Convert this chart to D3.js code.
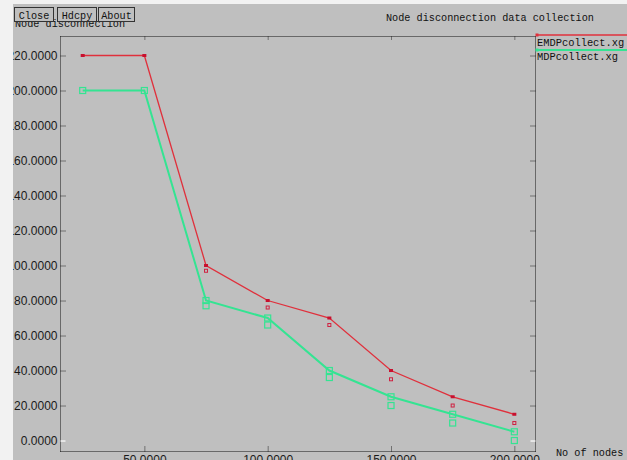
<!DOCTYPE html>
<html>
<head>
<meta charset="utf-8">
<script src="https://cdn.jsdelivr.net/npm/d3@7"></script>
<style>
  html, body { margin: 0; padding: 0; background: #bfbfbf; overflow: hidden; }
  svg { display: block; }
</style>
</head>
<body>
<script>
// ---- data ----
const xValues = [25, 50, 75, 100, 125, 150, 175, 200];
const emdpValues = [220, 220, 100, 80, 70, 40, 25, 15];
const mdpValues = [200, 200, 80, 70, 40, 25, 15, 5];
const markXValues = [75, 100, 125, 150, 175, 200];
const emdpMarkValues = [97, 76, 66, 35, 20, 10];
const mdpMarkValues = [77, 66, 36, 20, 10, 0];
const xTicks = [50, 100, 150, 200];
const yTicks = [0, 20, 40, 60, 80, 100, 120, 140, 160, 180, 200, 220];
const seriesNames = ["EMDPcollect.xg", "MDPcollect.xg"];
const buttons = ["Close", "Hdcpy", "About"];
const titleText = "Node disconnection data collection";
const yLabelText = "Node disconnection";
const xLabelText = "No of nodes";

const W = 627, H = 460;
const RED = "#e0303c", GREEN = "#34e492";
const mono = "'Liberation Mono', 'DejaVu Sans Mono', monospace";
const sans = "'Liberation Sans', Arial, sans-serif";

const svg = d3.select("body").append("svg").attr("width", W).attr("height", H);
svg.append("rect").attr("width", W).attr("height", H).attr("fill", "#bfbfbf");

const x = d3.scaleLinear().domain([16, 208.5]).range([60.5, 535.3]);
const y = d3.scaleLinear().domain([-6.5, 231]).range([451.9, 36.25]);

const L = 60.5, R = 535.5, T = 36.5, B = 451.5;

// y label (drawn before buttons, buttons overlap it)
svg.append("text").attr("x", 15).attr("y", 27).attr("font-family", mono)
  .attr("font-size", "10.2px").attr("fill", "#111").text(yLabelText);

// buttons
const bx = [14, 57, 98], bw = [39, 39, 36];
buttons.forEach((b, i) => {
  svg.append("rect").attr("x", bx[i] + 0.5).attr("y", 7.5).attr("width", bw[i]).attr("height", 14)
    .attr("fill", "#bfbfbf").attr("stroke", "#333").attr("stroke-width", 1);
  svg.append("text").attr("x", bx[i] + bw[i] / 2 + 0.5).attr("y", 18.5).attr("text-anchor", "middle")
    .attr("font-family", mono).attr("font-size", "10.2px").attr("fill", "#111").text(b);
});

// title
svg.append("text").attr("x", 386).attr("y", 20.5).attr("font-family", mono)
  .attr("font-size", "10.2px").attr("fill", "#111").text(titleText);

// x label
svg.append("text").attr("x", 556).attr("y", 456).attr("font-family", mono)
  .attr("font-size", "10.2px").attr("fill", "#111").text(xLabelText);

// frame (dotted)
const frame = svg.append("g").attr("stroke", "#111").attr("stroke-width", 1)
  .attr("stroke-dasharray", "1,1").attr("fill", "none");
frame.append("line").attr("x1", L).attr("x2", L).attr("y1", T).attr("y2", B);
frame.append("line").attr("x1", R).attr("x2", R).attr("y1", T).attr("y2", B);
frame.append("line").attr("x1", L).attr("x2", R).attr("y1", T).attr("y2", T);
frame.append("line").attr("x1", L).attr("x2", R).attr("y1", B).attr("y2", B);

function styleAxis(g, showLabels) {
  g.select(".domain").remove();
  g.selectAll(".tick line").attr("stroke", d => d === 0 ? "#ffffff" : "#222")
    .attr("stroke-dasharray", d => d === 0 ? null : "1,1")
    .attr("stroke-width", d => d === 0 ? 1.2 : 1);
  g.selectAll(".tick text").attr("font-family", sans).attr("font-size", "12px").attr("fill", "#1a1a1a");
  if (!showLabels) g.selectAll(".tick text").remove();
}

// left axis
svg.append("g").attr("transform", `translate(${L},0)`)
  .call(d3.axisLeft(y).tickValues(yTicks).tickFormat(d3.format(".4f")).tickSize(-5).tickSizeOuter(0).tickPadding(3))
  .call(g => styleAxis(g, true));
// right axis ticks
svg.append("g").attr("transform", `translate(${R},0)`)
  .call(d3.axisRight(y).tickValues(yTicks).tickSize(-5).tickSizeOuter(0))
  .call(g => styleAxis(g, false));
// bottom axis
svg.append("g").attr("transform", `translate(0,${B})`)
  .call(d3.axisBottom(x).tickValues(xTicks).tickFormat(d3.format(".4f")).tickSize(-5).tickSizeOuter(0).tickPadding(4))
  .call(g => styleAxis(g, true));
// top axis ticks
svg.append("g").attr("transform", `translate(0,${T})`)
  .call(d3.axisTop(x).tickValues(xTicks).tickSize(-4).tickSizeOuter(0))
  .call(g => styleAxis(g, false));

// series
const line = d3.line().x(d => x(d[0])).y(d => y(d[1]));
const emdp = xValues.map((v, i) => [v, emdpValues[i]]);
const mdp = xValues.map((v, i) => [v, mdpValues[i]]);
const emdpM = markXValues.map((v, i) => [v, emdpMarkValues[i]]);
const mdpM = markXValues.map((v, i) => [v, mdpMarkValues[i]]);

svg.append("path").datum(mdp).attr("d", line).attr("fill", "none")
  .attr("stroke", GREEN).attr("stroke-width", 2);
svg.append("path").datum(emdp).attr("d", line).attr("fill", "none")
  .attr("stroke", RED).attr("stroke-width", 1.3);

// green markers (open squares)
svg.selectAll(".gm").data(mdp.concat(mdpM)).enter().append("rect")
  .attr("x", d => x(d[0]) - 3).attr("y", d => y(d[1]) - 3)
  .attr("width", 6).attr("height", 6).attr("fill", "none")
  .attr("stroke", GREEN).attr("stroke-width", 1.2);
// red markers
svg.selectAll(".rm").data(emdp).enter().append("rect")
  .attr("x", d => x(d[0]) - 2).attr("y", d => y(d[1]) - 1.5)
  .attr("width", 4).attr("height", 3).attr("fill", "#c8102e");
svg.selectAll(".rm2").data(emdpM).enter().append("rect")
  .attr("x", d => x(d[0]) - 1.5).attr("y", d => y(d[1]) - 1.5)
  .attr("width", 3).attr("height", 3).attr("fill", "none")
  .attr("stroke", "#d02040").attr("stroke-width", 1);

// legend
const legY = [35, 50], legTextY = [45.5, 60];
const legColors = [RED, GREEN];
seriesNames.forEach((n, i) => {
  svg.append("line").attr("x1", 537).attr("x2", W).attr("y1", legY[i]).attr("y2", legY[i])
    .attr("stroke", legColors[i]).attr("stroke-width", i === 0 ? 1.3 : 2);
  svg.append("rect").attr("x", 535.5).attr("y", legY[i] - 1.5).attr("width", 3).attr("height", 3)
    .attr("fill", legColors[i]);
  svg.append("text").attr("x", 537).attr("y", legTextY[i]).attr("font-family", mono)
    .attr("font-size", "10.4px").attr("fill", "#111").text(n);
});

// light window edges
svg.append("rect").attr("x", 0).attr("y", 0).attr("width", W).attr("height", 4).attr("fill", "#f2f2f2");
svg.append("rect").attr("x", 0).attr("y", 0).attr("width", 13).attr("height", H).attr("fill", "#f2f2f2");
</script>
</body>
</html>
